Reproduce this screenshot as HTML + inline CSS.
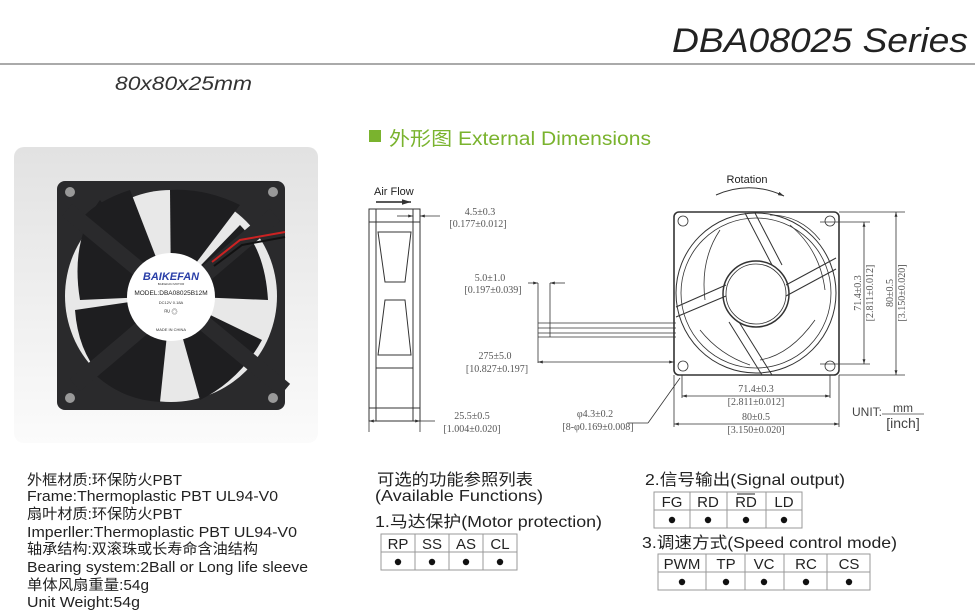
<!DOCTYPE html>
<html><head><meta charset="utf-8"><style>
html,body{margin:0;padding:0;background:#fff;}
svg{display:block;}
text{font-family:"Liberation Sans","Noto Sans CJK SC",sans-serif;}
.s{font-family:"Liberation Serif","Noto Serif CJK SC",serif;font-size:10px;fill:#555;}
</style></head><body>
<svg width="975" height="615" viewBox="0 0 975 615" xmlns="http://www.w3.org/2000/svg">
<defs>
<linearGradient id="pg" x1="0" y1="0" x2="0" y2="1"><stop offset="0" stop-color="#e2e2e2"/><stop offset="1" stop-color="#fbfbfb"/></linearGradient>
<marker id="ar" viewBox="0 0 10 10" refX="10" refY="5" markerWidth="6" markerHeight="6" orient="auto-start-reverse"><path d="M0,2 L10,5 L0,8z" fill="#333"/></marker>
</defs>
<!-- header -->
<text x="672" y="52" font-size="34" font-style="italic" fill="#222" textLength="296" lengthAdjust="spacingAndGlyphs">DBA08025 Series</text>
<rect x="0" y="63" width="975" height="2" fill="#aaa"/>
<text x="115" y="90" font-size="19" font-style="italic" fill="#333" textLength="137" lengthAdjust="spacingAndGlyphs">80x80x25mm</text>
<rect x="369" y="130" width="12" height="12" fill="#7ab32e"/>
<text x="389" y="145" font-size="19" fill="#7ab32e" textLength="262" lengthAdjust="spacingAndGlyphs">外形图 External Dimensions</text>

<!-- photo panel -->
<rect x="14" y="147" width="304" height="296" rx="10" fill="url(#pg)"/>
<rect x="57" y="181" width="228" height="229" rx="8" fill="#2a2a2c"/>
<circle cx="171" cy="296" r="106" fill="#e8e8e8"/>
<g fill="#1e1e20">
<path d="M171,296 L100,200 Q70,240 80,300 Z"/>
<path d="M171,296 L240,205 Q205,188 170,190 Z"/>
<path d="M171,296 L268,300 Q265,250 240,225 Z"/>
<path d="M171,296 L200,400 Q240,380 262,340 Z"/>
<path d="M171,296 L90,370 Q120,400 160,402 Z"/>
<path d="M171,296 L75,310 Q78,350 100,375 Z"/>
<path d="M171,296 L130,190 Q100,200 85,215 Z"/>
</g>
<path d="M67,210 L285,390" stroke="#2a2a2c" stroke-width="16"/>
<path d="M275,215 L75,385" stroke="#2a2a2c" stroke-width="16"/>
<circle cx="70" cy="192" r="5" fill="#999"/><circle cx="273" cy="192" r="5" fill="#999"/>
<circle cx="70" cy="398" r="5" fill="#999"/><circle cx="273" cy="398" r="5" fill="#999"/>
<path d="M212,262 L240,240 L285,232" stroke="#c22" stroke-width="2" fill="none"/>
<path d="M214,266 L242,245 L285,237" stroke="#111" stroke-width="2" fill="none"/>
<circle cx="171" cy="297" r="44" fill="#fff"/>
<text x="171" y="280" text-anchor="middle" font-size="11" font-weight="bold" font-style="italic" fill="#2a3fa8">BAIKEFAN</text>
<text x="171" y="285" text-anchor="middle" font-size="3" fill="#333">BAIKEFAN MOTOR</text>
<text x="171" y="295" text-anchor="middle" font-size="6.5" fill="#222">MODEL:DBA08025B12M</text>
<text x="171" y="304" text-anchor="middle" font-size="4" fill="#333">DC12V 0.18A</text>
<text x="171" y="314" text-anchor="middle" font-size="6" fill="#333">ᴿᵁ ◎</text>
<text x="171" y="331" text-anchor="middle" font-size="4" fill="#333">MADE IN CHINA</text>

<!-- side view -->
<g stroke="#333" stroke-width="1" fill="none">
<rect x="369" y="209" width="51" height="212"/>
<line x1="376" y1="209" x2="376" y2="421"/><line x1="413" y1="209" x2="413" y2="421"/>
<line x1="369" y1="222" x2="420" y2="222"/><line x1="369" y1="408" x2="420" y2="408"/>
<path d="M378,232 L411,232 L405,282 L385,282 Z"/>
<path d="M385,300 L405,300 L411,355 L378,355 Z"/>
<line x1="376" y1="368" x2="413" y2="368"/>
</g>
<text x="374" y="195" font-size="11" fill="#222">Air Flow</text>
<line x1="376" y1="202" x2="411" y2="202" stroke="#222" stroke-width="1.5" marker-end="url(#ar)"/>
<g stroke="#333" stroke-width="0.8" fill="none">
<line x1="397" y1="216" x2="413" y2="216" marker-end="url(#ar)"/>
<line x1="440" y1="216" x2="420" y2="216" marker-end="url(#ar)"/>
<line x1="369" y1="421" x2="369" y2="432"/><line x1="420" y1="421" x2="420" y2="432"/>
<line x1="369" y1="421" x2="420" y2="421" marker-start="url(#ar)" marker-end="url(#ar)"/>
<line x1="420" y1="421" x2="435" y2="421"/>
<line x1="538" y1="323" x2="676" y2="323"/><line x1="538" y1="328" x2="676" y2="328"/>
<line x1="538" y1="333" x2="676" y2="333"/><line x1="538" y1="337" x2="676" y2="337"/>
<line x1="538" y1="283" x2="538" y2="363"/><line x1="550" y1="283" x2="550" y2="337"/>
<line x1="528" y1="283" x2="538" y2="283" marker-end="url(#ar)"/>
<line x1="565" y1="283" x2="550" y2="283" marker-end="url(#ar)"/>
<line x1="538" y1="362" x2="674" y2="362" marker-start="url(#ar)" marker-end="url(#ar)"/>
<line x1="627" y1="423" x2="648" y2="423"/><line x1="648" y1="423" x2="680" y2="378"/>
</g>
<text class="s" x="480" y="215" text-anchor="middle">4.5±0.3</text>
<text class="s" x="478" y="227" text-anchor="middle">[0.177±0.012]</text>
<text class="s" x="490" y="281" text-anchor="middle">5.0±1.0</text>
<text class="s" x="493" y="293" text-anchor="middle">[0.197±0.039]</text>
<text class="s" x="495" y="359" text-anchor="middle">275±5.0</text>
<text class="s" x="497" y="372" text-anchor="middle">[10.827±0.197]</text>
<text class="s" x="472" y="419" text-anchor="middle">25.5±0.5</text>
<text class="s" x="472" y="432" text-anchor="middle">[1.004±0.020]</text>
<text class="s" x="595" y="417" text-anchor="middle">φ4.3±0.2</text>
<text class="s" x="598" y="430" text-anchor="middle">[8-φ0.169±0.008]</text>

<!-- front view -->
<text x="747" y="183" text-anchor="middle" font-size="11" fill="#222">Rotation</text>
<path d="M716,195 Q750,180 784,196" stroke="#333" fill="none" marker-end="url(#ar)"/>
<g stroke="#333" fill="none">
<rect x="674" y="212" width="165" height="163" rx="5" stroke-width="1.6"/>
<circle cx="756" cy="293" r="80" stroke-width="1"/>
<circle cx="756" cy="293" r="75" stroke-width="0.8"/>
<circle cx="756" cy="294" r="33" stroke-width="1.5"/>
<circle cx="756" cy="294" r="30" stroke-width="0.8"/>
<path d="M745,213 L772,265 M755,213 L782,265" stroke-width="1"/>
<path d="M729,322 L762,375 M739,322 L772,375" stroke-width="1"/>
<path d="M676,307 L726,285 M676,317 L726,296" stroke-width="1"/>
<path d="M786,285 L836,258 M786,296 L836,269" stroke-width="1"/>
<path d="M720,230 Q700,260 705,300 M790,225 Q820,250 825,290 M815,320 Q790,355 760,360 M700,330 Q720,355 750,365 M770,215 Q800,215 820,240" stroke-width="0.8"/>
<circle cx="683" cy="221" r="5" stroke-width="0.8"/><circle cx="830" cy="221" r="5" stroke-width="0.8"/>
<circle cx="683" cy="366" r="5" stroke-width="0.8"/><circle cx="830" cy="366" r="5" stroke-width="0.8"/>
</g>
<g stroke="#333" stroke-width="0.8" fill="none">
<line x1="820" y1="222" x2="870" y2="222"/><line x1="820" y1="364" x2="870" y2="364"/>
<line x1="864" y1="222" x2="864" y2="364" marker-start="url(#ar)" marker-end="url(#ar)"/>
<line x1="839" y1="212" x2="905" y2="212"/><line x1="839" y1="375" x2="905" y2="375"/>
<line x1="896" y1="212" x2="896" y2="375" marker-start="url(#ar)" marker-end="url(#ar)"/>
<line x1="682" y1="375" x2="682" y2="398"/><line x1="830" y1="375" x2="830" y2="398"/>
<line x1="682" y1="396" x2="830" y2="396" marker-start="url(#ar)" marker-end="url(#ar)"/>
<line x1="674" y1="375" x2="674" y2="427"/><line x1="839" y1="375" x2="839" y2="427"/>
<line x1="674" y1="424" x2="839" y2="424" marker-start="url(#ar)" marker-end="url(#ar)"/>
</g>
<text class="s" x="756" y="392" text-anchor="middle">71.4±0.3</text>
<text class="s" x="756" y="405" text-anchor="middle">[2.811±0.012]</text>
<text class="s" x="756" y="420" text-anchor="middle">80±0.5</text>
<text class="s" x="756" y="433" text-anchor="middle">[3.150±0.020]</text>
<text class="s" transform="translate(861,293) rotate(-90)" text-anchor="middle">71.4±0.3</text>
<text class="s" transform="translate(873,293) rotate(-90)" text-anchor="middle">[2.811±0.012]</text>
<text class="s" transform="translate(893,293) rotate(-90)" text-anchor="middle">80±0.5</text>
<text class="s" transform="translate(905,293) rotate(-90)" text-anchor="middle">[3.150±0.020]</text>
<text x="852" y="416" font-family="Liberation Serif" font-size="12" fill="#444">UNIT:</text>
<text x="903" y="412" text-anchor="middle" font-family="Liberation Serif" font-size="12" fill="#444">mm</text>
<line x1="882" y1="414" x2="924" y2="414" stroke="#444" stroke-width="0.8"/>
<text x="903" y="428" text-anchor="middle" font-family="Liberation Serif" font-size="14" fill="#444">[inch]</text>

<!-- spec text -->
<g font-size="14.5" fill="#222">
<text x="27" y="485" textLength="155" lengthAdjust="spacingAndGlyphs">外框材质:环保防火PBT</text>
<text x="27" y="501" textLength="251" lengthAdjust="spacingAndGlyphs">Frame:Thermoplastic PBT UL94-V0</text>
<text x="27" y="519" textLength="155" lengthAdjust="spacingAndGlyphs">扇叶材质:环保防火PBT</text>
<text x="27" y="537" textLength="270" lengthAdjust="spacingAndGlyphs">Imperller:Thermoplastic PBT UL94-V0</text>
<text x="27" y="554" textLength="231" lengthAdjust="spacingAndGlyphs">轴承结构:双滚珠或长寿命含油结构</text>
<text x="27" y="572" textLength="281" lengthAdjust="spacingAndGlyphs">Bearing system:2Ball or Long life sleeve</text>
<text x="27" y="590" textLength="122" lengthAdjust="spacingAndGlyphs">单体风扇重量:54g</text>
<text x="27" y="607" textLength="113" lengthAdjust="spacingAndGlyphs">Unit Weight:54g</text>
</g>

<!-- functions -->
<g font-size="16" fill="#222">
<text x="377" y="485" textLength="156" lengthAdjust="spacingAndGlyphs">可选的功能参照列表</text>
<text x="375" y="501" textLength="168" lengthAdjust="spacingAndGlyphs">(Available Functions)</text>
<text x="375" y="527" textLength="227" lengthAdjust="spacingAndGlyphs">1.马达保护(Motor protection)</text>
<text x="645" y="485" textLength="200" lengthAdjust="spacingAndGlyphs">2.信号输出(Signal output)</text>
<text x="642" y="548" textLength="255" lengthAdjust="spacingAndGlyphs">3.调速方式(Speed control mode)</text>
</g>
<g stroke="#999" stroke-width="1" fill="none">
<rect x="381" y="534" width="136" height="36"/><line x1="381" y1="552" x2="517" y2="552"/>
<line x1="415" y1="534" x2="415" y2="570"/><line x1="449" y1="534" x2="449" y2="570"/><line x1="483" y1="534" x2="483" y2="570"/>
<rect x="654" y="492" width="148" height="36"/><line x1="654" y1="510" x2="802" y2="510"/>
<line x1="690" y1="492" x2="690" y2="528"/><line x1="727" y1="492" x2="727" y2="528"/><line x1="766" y1="492" x2="766" y2="528"/>
<rect x="658" y="554" width="212" height="36"/><line x1="658" y1="572" x2="870" y2="572"/>
<line x1="706" y1="554" x2="706" y2="590"/><line x1="745" y1="554" x2="745" y2="590"/><line x1="784" y1="554" x2="784" y2="590"/><line x1="827" y1="554" x2="827" y2="590"/>
</g>
<g font-size="15" fill="#222" text-anchor="middle">
<text x="398" y="549">RP</text><text x="432" y="549">SS</text><text x="466" y="549">AS</text><text x="500" y="549">CL</text>
<text x="672" y="507">FG</text><text x="708" y="507">RD</text><text x="746" y="507">RD</text><text x="784" y="507">LD</text>
<text x="682" y="569">PWM</text><text x="726" y="569">TP</text><text x="764" y="569">VC</text><text x="806" y="569">RC</text><text x="849" y="569">CS</text>
</g>
<line x1="737" y1="494" x2="755" y2="494" stroke="#222" stroke-width="1"/>
<g fill="#111">
<circle cx="398" cy="562" r="3.2"/><circle cx="432" cy="562" r="3.2"/><circle cx="466" cy="562" r="3.2"/><circle cx="500" cy="562" r="3.2"/>
<circle cx="672" cy="520" r="3.2"/><circle cx="708" cy="520" r="3.2"/><circle cx="746" cy="520" r="3.2"/><circle cx="784" cy="520" r="3.2"/>
<circle cx="682" cy="582" r="3.2"/><circle cx="726" cy="582" r="3.2"/><circle cx="764" cy="582" r="3.2"/><circle cx="806" cy="582" r="3.2"/><circle cx="849" cy="582" r="3.2"/>
</g>
</svg>
</body></html>
